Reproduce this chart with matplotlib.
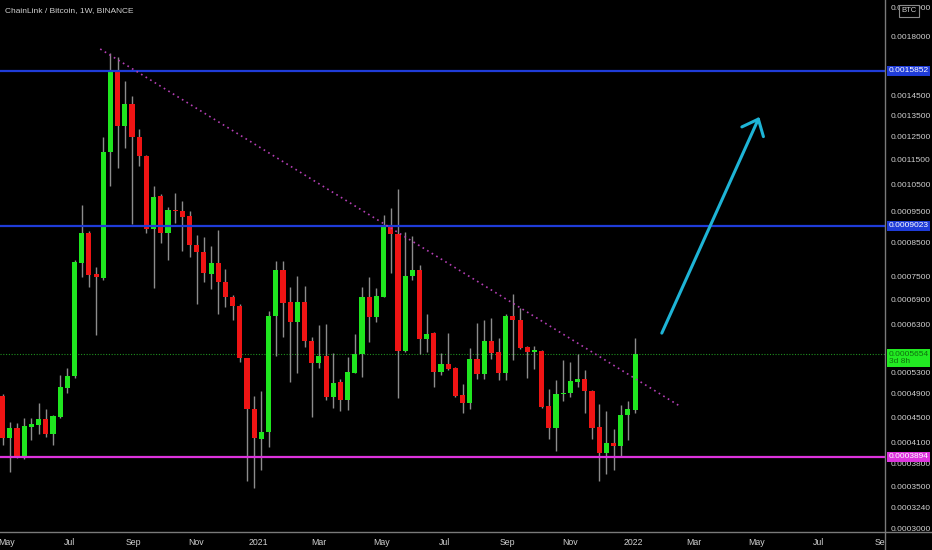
import numpy as np
import pandas as pd
import matplotlib
matplotlib.use('Agg')
import matplotlib.pyplot as plt
import matplotlib.dates as mdates
from matplotlib.lines import Line2D
from matplotlib.ticker import FixedLocator, FuncFormatter
from matplotlib.transforms import Bbox, TransformedBbox

plt.rcParams['font.family'] = ['Liberation Sans', 'DejaVu Sans']

title = 'ChainLink / Bitcoin, 1W, BINANCE'
first_week = '2020-04-27'

# weekly candles, LINK/BTC
open_ = [0.000486, 0.000417, 0.000433, 0.000391, 0.000434, 0.000437, 0.000447, 0.000423, 0.000450, 0.000500,
         0.000523, 0.000788, 0.000879, 0.000758, 0.000746, 0.001181, 0.001579, 0.001297, 0.001406, 0.001246,
         0.001163, 0.000892, 0.001006, 0.000879, 0.000956, 0.000953, 0.000935, 0.000842, 0.000821, 0.000758,
         0.000788, 0.000736, 0.000697, 0.000674, 0.000558, 0.000463, 0.000416, 0.000427, 0.000650, 0.000769,
         0.000684, 0.000636, 0.000684, 0.000594, 0.000548, 0.000562, 0.000484, 0.000511, 0.000479, 0.000529,
         0.000566, 0.000697, 0.000648, 0.000697, 0.000899, 0.000876, 0.000573, 0.000752, 0.000769, 0.000598,
         0.000611, 0.000530, 0.000546, 0.000538, 0.000488, 0.000474, 0.000556, 0.000527, 0.000594, 0.000570,
         0.000529, 0.000650, 0.000641, 0.000581, 0.000571, 0.000573, 0.000468, 0.000433, 0.000489, 0.000491,
         0.000511, 0.000517, 0.000495, 0.000434, 0.000395, 0.000410, 0.000405, 0.000454, 0.000462]
high = [0.000490, 0.000442, 0.000441, 0.000449, 0.000449, 0.000474, 0.000463, 0.000454, 0.000525, 0.000538,
        0.000797, 0.000974, 0.000886, 0.000777, 0.001246, 0.001692, 0.001668, 0.001528, 0.001447, 0.001283,
        0.001167, 0.001043, 0.001013, 0.000966, 0.001017, 0.000988, 0.000953, 0.000873, 0.000866, 0.000839,
        0.000889, 0.000771, 0.000702, 0.000679, 0.000559, 0.000486, 0.000495, 0.000662, 0.000794, 0.000794,
        0.000722, 0.000752, 0.000725, 0.000602, 0.000629, 0.000632, 0.000568, 0.000517, 0.000560, 0.000609,
        0.000722, 0.000749, 0.000720, 0.000939, 0.000963, 0.001031, 0.000883, 0.000870, 0.000783, 0.000655,
        0.000614, 0.000568, 0.000611, 0.000540, 0.000508, 0.000579, 0.000634, 0.000641, 0.000645, 0.000600,
        0.000655, 0.000704, 0.000669, 0.000583, 0.000583, 0.000574, 0.000498, 0.000515, 0.000554, 0.000550,
        0.000566, 0.000534, 0.000497, 0.000472, 0.000460, 0.000431, 0.000470, 0.000477, 0.000600]
low = [0.000407, 0.000369, 0.000388, 0.000386, 0.000414, 0.000423, 0.000419, 0.000407, 0.000449, 0.000491,
       0.000519, 0.000749, 0.000722, 0.000607, 0.000741, 0.001043, 0.001113, 0.001197, 0.000909, 0.001122,
       0.000879, 0.000720, 0.000848, 0.000797, 0.000912, 0.000824, 0.000806, 0.000679, 0.000736, 0.000717,
       0.000655, 0.000672, 0.000641, 0.000550, 0.000357, 0.000348, 0.000371, 0.000404, 0.000562, 0.000602,
       0.000511, 0.000529, 0.000581, 0.000450, 0.000538, 0.000479, 0.000465, 0.000460, 0.000462, 0.000528,
       0.000521, 0.000592, 0.000636, 0.000696, 0.000760, 0.000482, 0.000570, 0.000741, 0.000566, 0.000570,
       0.000502, 0.000525, 0.000534, 0.000484, 0.000457, 0.000463, 0.000517, 0.000517, 0.000556, 0.000515,
       0.000515, 0.000554, 0.000576, 0.000519, 0.000536, 0.000466, 0.000416, 0.000398, 0.000477, 0.000484,
       0.000502, 0.000457, 0.000416, 0.000357, 0.000366, 0.000371, 0.000391, 0.000414, 0.000457]
close = [0.000417, 0.000433, 0.000391, 0.000436, 0.000439, 0.000447, 0.000423, 0.000452, 0.000502, 0.000523,
         0.000791, 0.000879, 0.000755, 0.000749, 0.001181, 0.001579, 0.001297, 0.001406, 0.001246, 0.001163,
         0.000892, 0.001002, 0.000879, 0.000956, 0.000953, 0.000932, 0.000842, 0.000821, 0.000760, 0.000788,
         0.000736, 0.000697, 0.000674, 0.000558, 0.000463, 0.000417, 0.000427, 0.000650, 0.000769, 0.000682,
         0.000636, 0.000684, 0.000594, 0.000548, 0.000562, 0.000484, 0.000510, 0.000479, 0.000530, 0.000566,
         0.000697, 0.000648, 0.000699, 0.000899, 0.000876, 0.000573, 0.000752, 0.000769, 0.000598, 0.000609,
         0.000530, 0.000546, 0.000536, 0.000486, 0.000474, 0.000556, 0.000527, 0.000594, 0.000568, 0.000529,
         0.000650, 0.000641, 0.000579, 0.000570, 0.000573, 0.000467, 0.000433, 0.000490, 0.000491, 0.000513,
         0.000517, 0.000495, 0.000433, 0.000395, 0.000410, 0.000405, 0.000454, 0.000463, 0.0005654]

res_top = 0.0015852
res_mid = 0.0009023
support = 0.0003894
last_price = 0.0005654
countdown = '3d 8h'

trend_dates = ['2020-07-31', '2022-02-17']
trend_prices = [0.001717, 0.000467]
arrow_dates = ['2022-01-29', '2022-05-04']
arrow_prices = [0.000611, 0.001341]

price_ticks = [0.0020000, 0.0018000, 0.0014500, 0.0013500, 0.0012500, 0.0011500, 0.0010500,
               0.0009500, 0.0008500, 0.0007500, 0.0006900, 0.0006300, 0.0005300, 0.0004900,
               0.0004500, 0.0004100, 0.0003800, 0.0003500, 0.0003240, 0.0003000]

GREEN = '#1fe61f'
RED = '#ef1414'
WICK = '#8c8c8c'
BLUE = '#1f3cd8'
MAGENTA = '#dd33dd'
TXT = '#d0d0d0'

dates = pd.date_range(first_week, periods=len(open_), freq='7D')
x = mdates.date2num(dates.to_pydatetime())
o = np.array(open_)
c = np.array(close)
h = np.array(high)
l = np.array(low)
up = c >= o
bottom = np.minimum(o, c)
height = np.maximum(np.abs(c - o), bottom * 0.005)
colors = np.where(up, GREEN, RED)

fig = plt.figure(figsize=(9.32, 5.5), dpi=100, facecolor='black')
ax = fig.add_axes([0, 18 / 550, 885 / 932, 532 / 550])
ax.set_facecolor('black')
for s in ax.spines.values():
    s.set_visible(False)

ax.set_yscale('log')
ax.set_ylim(0.00029643, 0.0020518)
x_left = x[0] - 2.6
ax.set_xlim(x_left, x_left + 862)

# candles
ax.vlines(x, l, h, color=WICK, lw=1, zorder=2)
ax.bar(x, height, bottom=bottom, width=5.0, color=colors, linewidth=0, zorder=3)

# levels
ax.axhline(res_top, color=BLUE, lw=1.6, zorder=4)
ax.axhline(res_mid, color=BLUE, lw=1.6, zorder=4)
ax.axhline(support, color=MAGENTA, lw=1.6, zorder=4)
ax.axhline(last_price, color='#1f8f1f', lw=0.8, ls=(0, (1, 1.5)), zorder=1)

# descending trendline
td = mdates.date2num(pd.to_datetime(trend_dates).to_pydatetime())
ax.plot(td, trend_prices, color='#b53fb5', lw=1.2, ls=(0, (1, 2.2)), zorder=5)

# projection arrow
ad = mdates.date2num(pd.to_datetime(arrow_dates).to_pydatetime())
ax.annotate('', xy=(ad[1], arrow_prices[1]), xytext=(ad[0], arrow_prices[0]),
            arrowprops=dict(arrowstyle='->,head_length=1.0,head_width=0.85', color='#1eb4d6',
                            lw=2.2, mutation_scale=10, shrinkA=0, shrinkB=0), zorder=6)

# y axis on the right
ax.yaxis.tick_right()
ax.yaxis.set_major_locator(FixedLocator(price_ticks))
ax.yaxis.set_major_formatter(FuncFormatter(lambda v, p: '%.7f' % v))
ax.yaxis.set_minor_locator(FixedLocator([]))
ax.tick_params(axis='y', length=0, pad=4, labelsize=6, labelcolor=TXT)

# x axis months
ax.xaxis.set_major_locator(mdates.MonthLocator(bymonth=(1, 3, 5, 7, 9, 11)))
ax.xaxis.set_major_formatter(FuncFormatter(
    lambda v, p: str(mdates.num2date(v).year) if mdates.num2date(v).month == 1 else mdates.num2date(v).strftime('%b')))
ax.tick_params(axis='x', length=0, pad=4, labelsize=6.3, labelcolor=TXT)

# price labels on the axis
ytr = ax.get_yaxis_transform()
ax.text(1.004, res_top, '%.7f' % res_top, transform=ytr, fontsize=6, color='white', va='center', ha='left',
        bbox=dict(boxstyle='square,pad=0.22', fc=BLUE, ec='none'), zorder=10, clip_on=False)
ax.text(1.004, res_mid, '%.7f' % res_mid, transform=ytr, fontsize=6, color='white', va='center', ha='left',
        bbox=dict(boxstyle='square,pad=0.22', fc=BLUE, ec='none'), zorder=10, clip_on=False)
ax.text(1.004, support, '%.7f' % support, transform=ytr, fontsize=6, color='white', va='center', ha='left',
        bbox=dict(boxstyle='square,pad=0.22', fc=MAGENTA, ec='none'), zorder=10, clip_on=False)
ax.text(1.004, last_price * 1.012, '%.7f\n%s' % (last_price, countdown), transform=ytr, fontsize=6,
        color='#0f6e0f', va='top', ha='left', linespacing=1.0,
        bbox=dict(boxstyle='square,pad=0.22', fc='#22ea22', ec='none'), zorder=10, clip_on=False)

# separators
fig.add_artist(Line2D([885 / 932, 885 / 932], [0, 1], transform=fig.transFigure, color='#7a7a7a', lw=1))
fig.add_artist(Line2D([0, 1], [18 / 550, 18 / 550], transform=fig.transFigure, color='#7a7a7a', lw=1))

fig.text(5 / 932, 1 - 11 / 550, title, fontsize=6, color=TXT, va='center', ha='left')
fig.text(909 / 932, 1 - 11 / 550, 'BTC', fontsize=5.5, color=TXT, va='center', ha='center',
         bbox=dict(boxstyle='square,pad=0.3', fc='black', ec='#8a8a8a', lw=0.8))

# cut month labels at the price scale
fig.canvas.draw()
clip = TransformedBbox(Bbox([[0, 0], [885 / 932, 1]]), fig.transFigure)
for t in ax.xaxis.get_major_ticks():
    t.label1.set_clip_box(clip)
    t.label1.set_clip_on(True)

fig.savefig('out.png', dpi=100, facecolor='black')
